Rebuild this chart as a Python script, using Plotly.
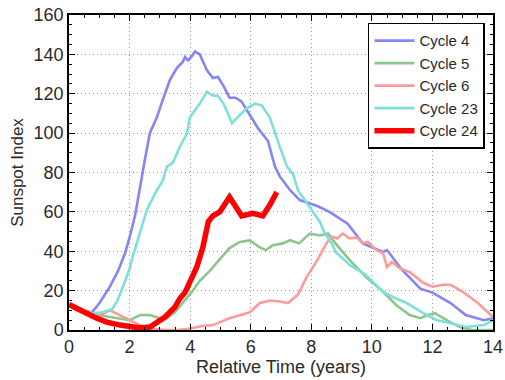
import plotly.graph_objects as go

# ---- data ----
c4_x = [0, 0.4, 0.76, 1.02, 1.35, 1.62, 1.85, 2.0, 2.18, 2.34, 2.5, 2.67, 2.9, 3.1, 3.33, 3.56, 3.75, 3.83,
        3.93, 4.05, 4.16, 4.32, 4.55, 4.75, 4.92, 5.1, 5.3, 5.5, 5.7, 5.9, 6.24, 6.57, 6.8, 6.96, 7.3, 7.62,
        8.2, 8.6, 8.85, 9.2, 9.7, 10.0, 10.37, 10.5, 11.0, 11.6, 12.0, 12.6, 13.1, 13.7, 14.0]
c4_y = [13, 10, 9, 14, 22, 30, 39, 47, 58, 71, 86, 100, 108, 117, 127, 133, 136, 138.6,
        137, 139, 141.5, 140, 132, 128, 128.5, 124, 118, 118, 116, 111, 102.5, 96, 83, 78, 71, 66,
        63, 60, 57.5, 54, 44, 42, 39.6, 40.6, 30.5, 21, 19, 13.7, 7.6, 5, 6]

c5_x = [0, 0.4, 0.8, 1.2, 1.6, 2.0, 2.35, 2.67, 3.0, 3.23, 3.5, 3.76, 4.06, 4.32, 4.65, 4.98, 5.3, 5.64,
        5.97, 6.3, 6.5, 6.73, 7.06, 7.3, 7.6, 7.95, 8.28, 8.55, 8.85, 9.27, 9.8, 10.37, 10.8, 11.25,
        11.6, 11.85, 12.08, 12.47, 12.9, 13.3, 14.0]
c5_y = [12, 10, 8, 7, 6, 5, 7.6, 7.6, 6, 6, 9, 13.7, 19.4, 25, 30, 36, 41.6, 44.7,
        45.5, 42, 40.6, 43, 44, 45.6, 44, 49, 48, 49, 43, 35.5, 27, 19.4, 12.7, 7.6,
        6, 7.6, 8.6, 5, 1.5, 0, 0]

c6_x = [0, 0.4, 0.8, 1.1, 1.35, 1.6, 2.0, 2.4, 2.8, 3.2, 3.6, 4.0, 4.4, 4.75, 5.3, 5.97, 6.3, 6.63,
        6.96, 7.23, 7.56, 7.85, 8.2, 8.5, 8.68, 8.85, 9.04, 9.27, 9.5, 9.7, 9.87, 10.15, 10.37, 10.5,
        10.66, 10.9, 11.25, 11.7, 12.0, 12.35, 12.6, 13.0, 13.5, 14.0]
c6_y = [12, 9, 7, 8, 10, 8, 5, 2, 0.5, 0, 0, 0.8, 2, 2.5, 6, 9, 13.7, 15,
        14.5, 13.7, 18, 27, 35.5, 44, 47.5, 46.5, 49, 46.5, 47, 44, 44.7, 40.6, 39, 32,
        34.5, 31.5, 29.4, 24, 22, 23, 23, 19.4, 13.7, 6.6]

c23_x = [0, 0.4, 0.8, 1.1, 1.42, 1.6, 1.78, 2.0, 2.1, 2.34, 2.57, 2.9, 3.1, 3.23, 3.43, 3.66, 3.9, 3.99,
         4.16, 4.32, 4.55, 4.75, 4.92, 5.1, 5.2, 5.38, 5.5, 5.7, 5.87, 6.14, 6.37, 6.63, 6.8, 6.96, 7.2,
         7.4, 7.56, 7.95, 8.28, 8.45, 8.68, 8.8, 9.27, 9.8, 10.37, 10.8, 11.15, 11.7, 12.15, 12.6,
         13.1, 13.7, 14.0]
c23_y = [12, 10, 8.5, 9, 10.5, 15, 22, 31, 37, 49, 61, 71, 76, 83, 85, 93, 100, 108,
         111.7, 115, 121, 119, 119, 115, 111.7, 105, 107, 110, 112.6, 115, 114, 108, 100, 93, 83,
         79, 71, 62, 55, 49, 44, 39.6, 33, 28, 19.4, 16, 13.7, 8.6, 5, 3.4,
         1.5, 2.5, 5]

c24_x = [0, 0.3, 0.7, 0.92, 1.25, 1.68, 2.0, 2.35, 2.67, 2.9, 3.17, 3.5, 3.66, 3.83, 4.0, 4.22, 4.42,
         4.6, 4.75, 4.98, 5.3, 5.48, 5.7, 6.07, 6.4, 6.63, 6.86]
c24_y = [13, 11, 7.6, 6, 4, 2.5, 1.5, 1, 1.5, 4, 6.6, 11.7, 16, 19, 25, 32, 42,
         55, 58, 60, 67.5, 63.5, 58, 59.3, 58, 63.5, 70]

names = ["Cycle 4", "Cycle 5", "Cycle 6", "Cycle 23", "Cycle 24"]
xs = [c4_x, c5_x, c6_x, c23_x, c24_x]
ys = [c4_y, c5_y, c6_y, c23_y, c24_y]
colors = ["#8585f5", "#8cc68c", "#ff9a9a", "#7ee0dc", "#ff0000"]
widths = [2.6, 2.6, 2.6, 2.6, 5.5]

font = "Liberation Sans, Arial, sans-serif"
txt = "#2a2a2a"

fig = go.Figure()
for n, x, y, c, w in zip(names, xs, ys, colors, widths):
    fig.add_trace(go.Scatter(x=x, y=y, mode="lines", name=n,
                             line=dict(color=c, width=w)))

axis_common = dict(
    showline=True, linecolor="black", linewidth=1.5, mirror="ticks",
    ticks="inside", ticklen=6, tickcolor="black", tickwidth=1,
    showgrid=True, gridcolor="#9a9a9a", griddash="1px,3px", gridwidth=1.2,
    zeroline=False, automargin=False, ticklabeloverflow="allow",
    tickfont=dict(family=font, size=18, color=txt),
)

fig.update_xaxes(range=[0, 14], dtick=2, tick0=0,
                 minor=dict(dtick=0.5, ticks="inside", ticklen=3, tickcolor="black", showgrid=False),
                 title=dict(text="Relative Time (years)", font=dict(family=font, size=18, color=txt),
                            standoff=4),
                 **axis_common)
fig.update_yaxes(range=[0, 160], dtick=20, tick0=0,
                 minor=dict(dtick=5, ticks="inside", ticklen=3, tickcolor="black", showgrid=False),
                 title=dict(text="Sunspot Index", font=dict(family=font, size=17, color=txt),
                            standoff=6),
                 **axis_common)

fig.update_layout(
    width=505, height=380,
    margin=dict(l=69, r=12, t=15, b=50),
    paper_bgcolor="white", plot_bgcolor="white",
    showlegend=True,
    legend=dict(x=0.981, y=0.975, xanchor="right", yanchor="top",
                bgcolor="white", bordercolor="black", borderwidth=1.5,
                font=dict(family=font, size=15, color=txt),
                itemwidth=40, tracegroupgap=0),
)

# remove the default page margin so the figure sits at the window's top-left corner
fig.write_html("out.html",
               config={"displayModeBar": False},
               post_script="document.body.style.margin='0';document.body.style.overflow='hidden';")
